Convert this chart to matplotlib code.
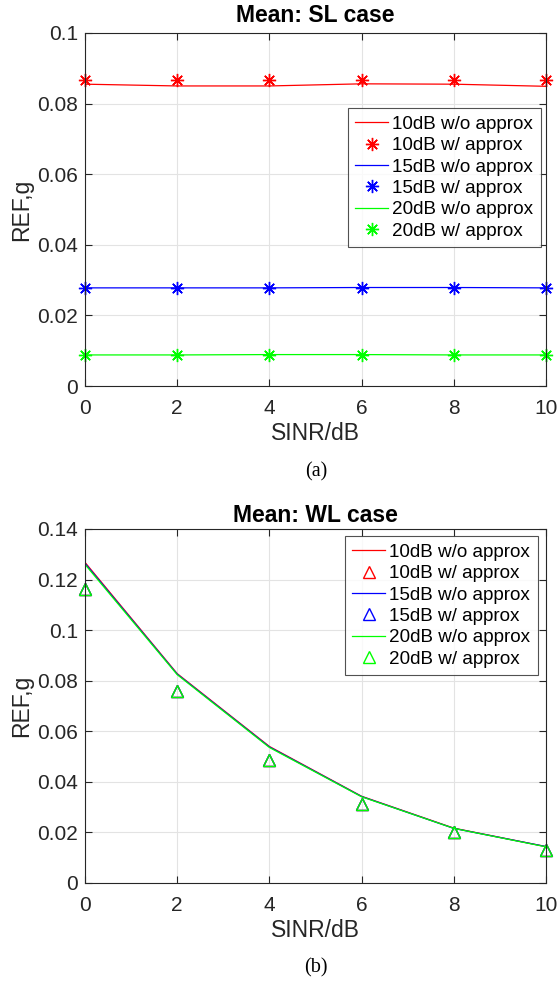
import matplotlib
matplotlib.use("Agg")
import matplotlib.pyplot as plt

# SINR sweep (dB)
sinr = [0, 2, 4, 6, 8, 10]

# Strong-line case: exact vs approximated mean REF
sl_10_exact = [0.0855, 0.0850, 0.0850, 0.0856, 0.0855, 0.0849]
sl_10_approx = [0.0868, 0.0868, 0.0868, 0.0868, 0.0868, 0.0868]
sl_15_exact = [0.0278, 0.0278, 0.0278, 0.0279, 0.0279, 0.0278]
sl_15_approx = [0.0278, 0.0278, 0.0278, 0.0278, 0.0278, 0.0278]
sl_20_exact = [0.0088, 0.0088, 0.0089, 0.0089, 0.0088, 0.0088]
sl_20_approx = [0.0088, 0.0088, 0.0088, 0.0088, 0.0088, 0.0088]

# Weak-line case
wl_10_exact = [0.1268, 0.0828, 0.0540, 0.0343, 0.0217, 0.0144]
wl_15_exact = [0.1264, 0.0826, 0.0538, 0.0342, 0.0216, 0.0144]
wl_20_exact = [0.1260, 0.0824, 0.0536, 0.0341, 0.0216, 0.0143]
wl_approx = [0.1163, 0.0759, 0.0486, 0.0312, 0.0203, 0.0130]

labels = ["10dB w/o approx", "10dB w/ approx",
          "15dB w/o approx", "15dB w/ approx",
          "20dB w/o approx", "20dB w/ approx"]
colors = ["#ff0000", "#0000ff", "#00ff00"]

plt.rcParams["font.family"] = ["Liberation Sans", "DejaVu Sans"]

W, H = 559, 984
fig = plt.figure(figsize=(W / 100, H / 100), dpi=100)

L, R = 85, 546
T1, B1 = 33, 386
T2, B2 = 529, 883
ax1 = fig.add_axes([L / W, 1 - B1 / H, (R - L) / W, (B1 - T1) / H])
ax2 = fig.add_axes([L / W, 1 - B2 / H, (R - L) / W, (B2 - T2) / H])

star = (8, 2, 0)
dark = "#262626"


def style(ax, ylim, yticks, yticklabels, title, title_pad):
    ax.set_xlim(0, 10)
    ax.set_ylim(*ylim)
    ax.set_xticks(sinr)
    ax.set_yticks(yticks)
    ax.set_yticklabels(yticklabels)
    ax.grid(True, color="#e3e3e3", linewidth=0.8)
    ax.set_axisbelow(True)
    for s in ax.spines.values():
        s.set_color(dark)
        s.set_linewidth(0.8)
    ax.tick_params(direction="in", top=True, right=True, length=5,
                   width=0.8, color=dark, labelcolor=dark,
                   labelsize=15)
    ax.tick_params(axis="x", pad=9.5)
    ax.tick_params(axis="y", pad=5)
    ax.set_xlabel("SINR/dB", fontsize=16.5, color=dark, labelpad=3)
    ax.set_ylabel("REF,g", fontsize=16.5, color=dark, labelpad=3)
    ax.set_title(title, fontsize=16.5, fontweight="bold", pad=title_pad)


def legend(ax, right_px, top_px, ax_top, ax_bottom):
    leg = ax.legend(labels, loc="upper right",
                    bbox_to_anchor=((right_px - L) / (R - L),
                                    (ax_bottom - top_px) / (ax_bottom - ax_top)),
                    fontsize=13.6, frameon=True, fancybox=False,
                    borderpad=0.4, labelspacing=0.22, handlelength=1.7,
                    handletextpad=0.25, borderaxespad=0.0)
    leg.get_frame().set_edgecolor(dark)
    leg.get_frame().set_linewidth(0.8)
    return leg


# Top: SL case
for c, ex, ap in zip(colors,
                     [sl_10_exact, sl_15_exact, sl_20_exact],
                     [sl_10_approx, sl_15_approx, sl_20_approx]):
    ax1.plot(sinr, ex, color=c, linewidth=0.9)
    ax1.plot(sinr, ap, linestyle="none", marker=star, markersize=9.5,
             markeredgecolor=c, markeredgewidth=1.0, color=c, clip_on=False)
style(ax1, (0, 0.1), [0, 0.02, 0.04, 0.06, 0.08, 0.1],
      ["0", "0.02", "0.04", "0.06", "0.08", "0.1"], "Mean: SL case", 8)
legend(ax1, 541, 108, T1, B1)

# Bottom: WL case
for c, ex in zip(colors, [wl_10_exact, wl_15_exact, wl_20_exact]):
    ax2.plot(sinr, ex, color=c, linewidth=0.9)
    ax2.plot(sinr, wl_approx, linestyle="none", marker="^", markersize=8.5,
             markerfacecolor="none", markeredgecolor=c, markeredgewidth=1.0,
             clip_on=False)
style(ax2, (0, 0.14), [0, 0.02, 0.04, 0.06, 0.08, 0.1, 0.12, 0.14],
      ["0", "0.02", "0.04", "0.06", "0.08", "0.1", "0.12", "0.14"],
      "Mean: WL case", 5)
legend(ax2, 538, 536, T2, B2)

# Sub-figure captions
serif = ["Liberation Serif", "DejaVu Serif"]
fig.text(316 / W, 1 - 472 / H, "(a)", ha="center", va="center",
         fontsize=14.5, family=serif)
fig.text(316 / W, 1 - 968 / H, "(b)", ha="center", va="center",
         fontsize=14.5, family=serif)

fig.savefig("out.png", dpi=100)
